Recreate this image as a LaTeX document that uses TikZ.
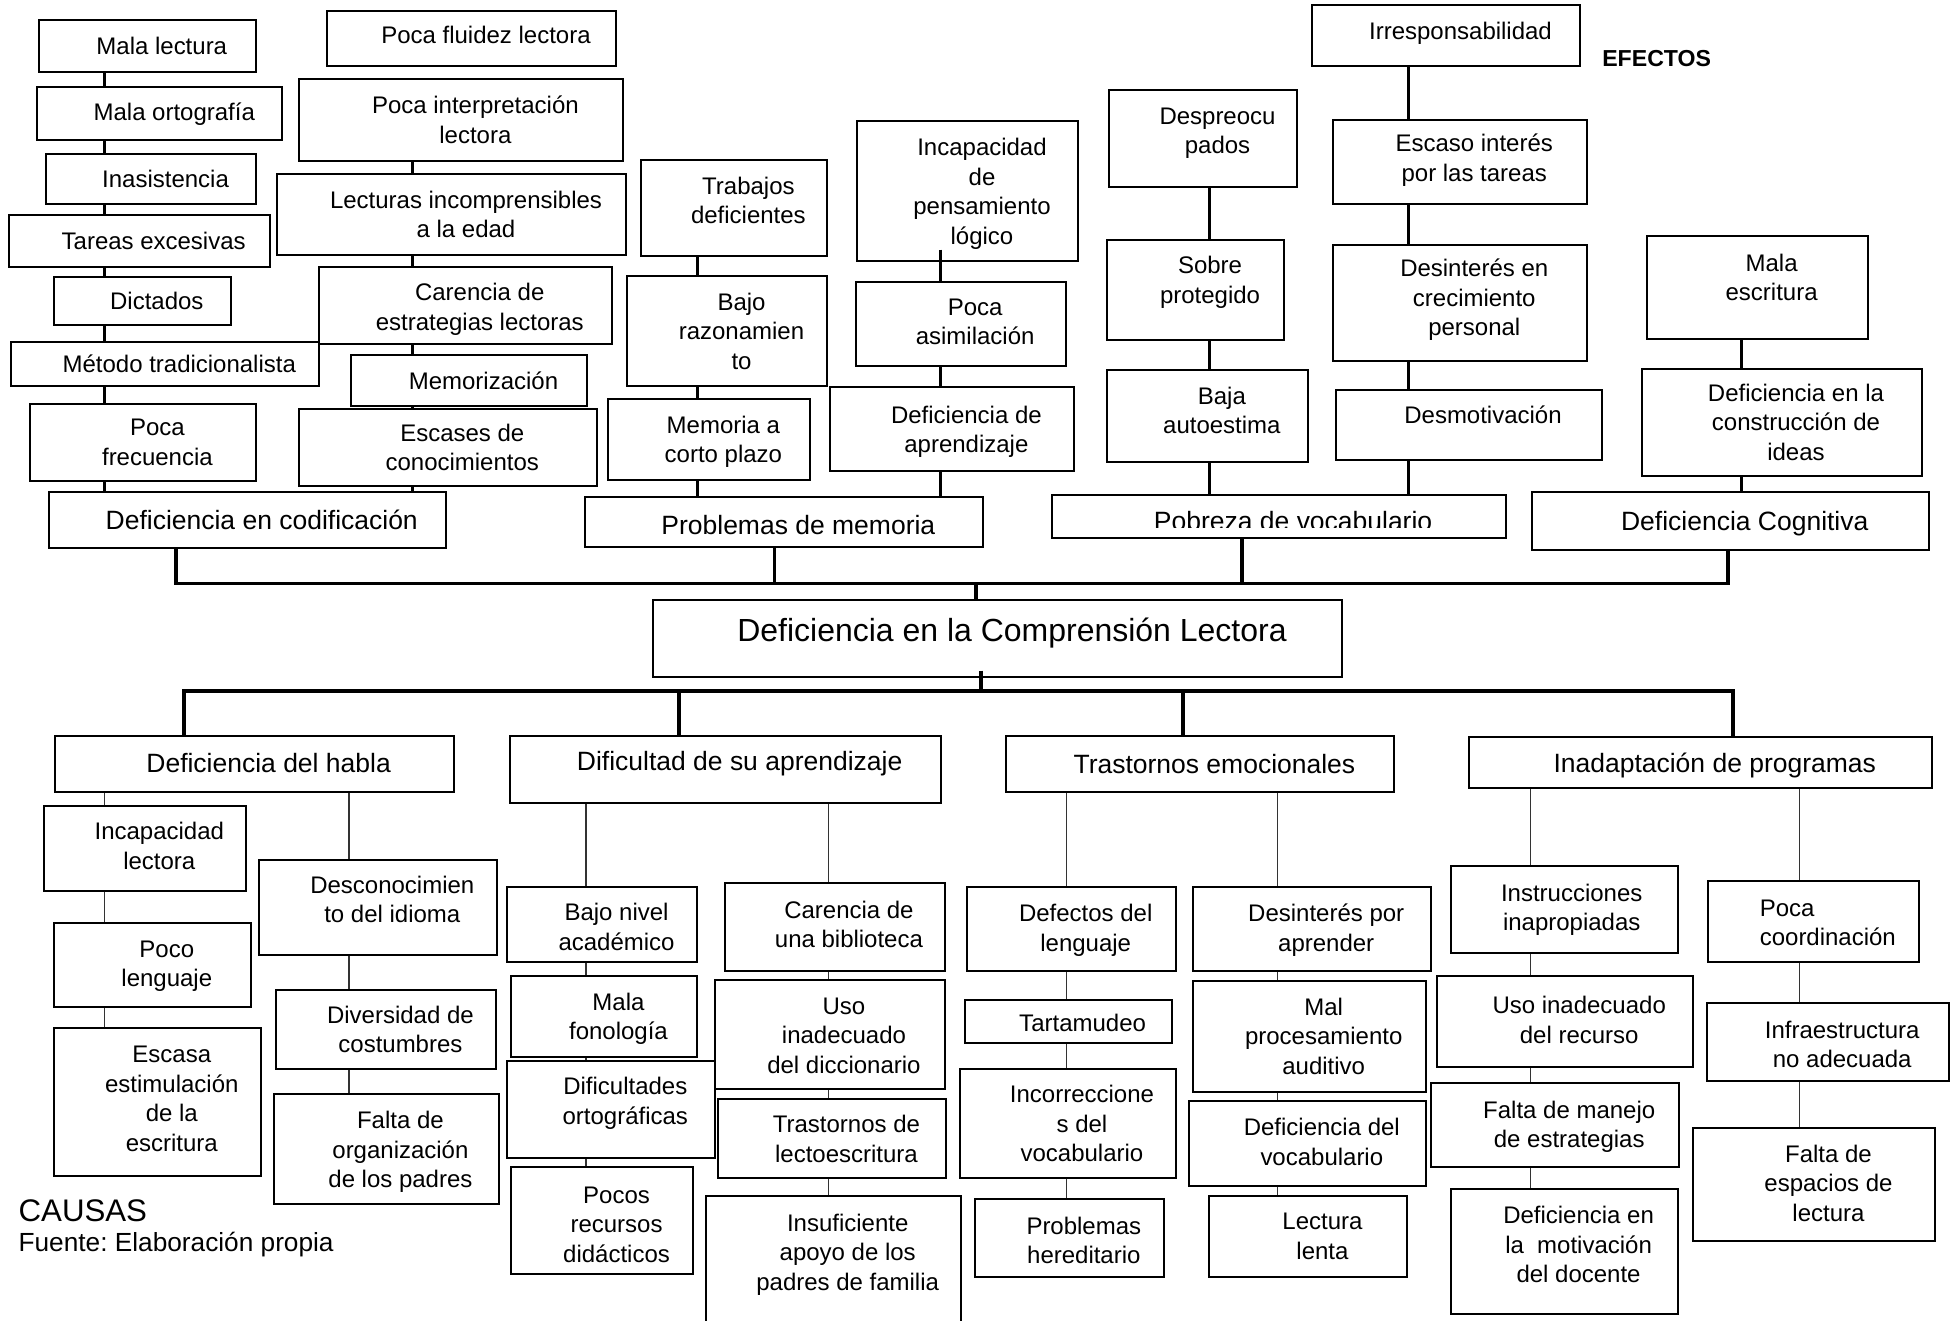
\documentclass[tikz,border=0pt]{standalone}
\usepackage{fontspec}
\setmainfont{Liberation Sans}
\usetikzlibrary{fit}
\newcommand{\cbfont}{\fontsize{19.2}{23.6}\selectfont}
\newcommand{\lvlfont}{\fontsize{21.2}{24}\selectfont}
\newcommand{\ctrfont}{\fontsize{25.6}{30}\selectfont}
\frenchspacing
\begin{document}
\begin{tikzpicture}[
      x=1pt, y=-1pt,
      cause/.style={
         draw,
         line width=1.6pt,
         inner sep=0pt,
         fit={#1}
      },
      every label/.style={
         font=\cbfont,
         align=center,
         inner sep=0pt,
         xshift=11.5pt
      },
      link/.style={line width=2.4pt},
      bus/.style={line width=3pt},
      twig/.style={line width=1pt,draw=black!80}
    ]
    \useasboundingbox (0,0) rectangle (1568,1057);
    % columns of the connectors
    \coordinate (cA) at (83.6,0);
    \coordinate (cB) at (330,0);
    \coordinate (cC) at (558,0);
    \coordinate (cD) at (753,0);
    \coordinate (cE) at (968,0);
    \coordinate (cF) at (1127,0);
    \coordinate (cG) at (1394,0);
    \coordinate (k1) at (141,467);
    \coordinate (k2) at (620,467);
    \coordinate (k3) at (994,467);
    \coordinate (k4) at (1383,467);
    \coordinate (k5) at (781,467);
    \coordinate (m1) at (147.5,553);
    \coordinate (m2) at (543.5,553);
    \coordinate (m3) at (947,553);
    \coordinate (m4) at (1387,553);
    \coordinate (m5) at (785,553);
    \coordinate (cH1) at (83.5,0);
    \coordinate (cH2) at (279.3,0);
    \coordinate (cD1) at (469,0);
    \coordinate (cD2) at (663,0);
    \coordinate (cT1) at (853.7,0);
    \coordinate (cT2) at (1022.6,0);
    \coordinate (cI1) at (1225.1,0);
    \coordinate (cI2) at (1440.6,0);

    % efectos
    \node[cause={(31,16) (205,58)}, label={center:Mala lectura}] (mlec) {};
    \node[cause={(30,70) (226,112)}, label={center:Mala ortografía}] (mort) {};
    \node[cause={(37,123) (205,163)}, label={center:Inasistencia}] (inas) {};
    \node[cause={(7,172) (216,214)}, label={center:Tareas excesivas}] (tarea) {};
    \node[cause={(43,222) (185,260)}, label={center:Dictados}] (dict) {};
    \node[cause={(9,274) (255,309)}, label={center:Método tradicionalista}] (metod) {};
    \node[cause={(24,323) (205,385)}, label={center:Poca\\frecuencia}] (pfrec) {};
    \node[cause={(39,394) (357,439)}, label={[font=\lvlfont]center:Deficiencia en codificación}] (defcod) {};

    \node[cause={(262,9) (493,53)}, label={[yshift=3pt]center:Poca fluidez lectora}] (pflu) {};
    \node[cause={(239,63) (499,129)}, label={center:Poca interpretación\\lectora}] (pint) {};
    \node[cause={(222,139) (501,204)}, label={center:Lecturas incomprensibles\\a la edad}] (lecin) {};
    \node[cause={(255,214) (490,275)}, label={[yshift=-3pt]center:Carencia de\\estrategias lectoras}] (carest) {};
    \node[cause={(281,284) (470,325)}, label={center:Memorización}] (memo) {};
    \node[cause={(239,327) (478,389)}, label={center:Escases de\\conocimientos}] (escas) {};

    \node[cause={(513,128) (662,205)}, label={[yshift=6pt]center:Trabajos\\deficientes}] (trab) {};
    \node[cause={(502,221) (662,309)}, label={center:Bajo\\razonamien\\to}] (bajor) {};
    \node[cause={(487,319) (648,384)}, label={[yshift=-2pt]center:Memoria a\\corto plazo}] (memcp) {};
    \node[cause={(468,398) (787,438)}, label={[font=\lvlfont, yshift=-2pt]center:Problemas de memoria}] (probm) {};

    \node[cause={(686,97) (863,209)}, label={[yshift=-2pt]center:Incapacidad\\de\\pensamiento\\lógico}] (incap) {};
    \node[cause={(685,226) (853,293)}, label={[yshift=2pt]center:Poca\\asimilación}] (pasim) {};
    \node[cause={(664,310) (860,377)}, label={[yshift=-2pt]center:Deficiencia de\\aprendizaje}] (defap) {};

    \node[cause={(888,72) (1038,150)}, label={[yshift=4.5pt]center:Despreocu\\pados}] (desp) {};
    \node[cause={(886,192) (1028,272)}, label={[yshift=6pt]center:Sobre\\protegido}] (sobre) {};
    \node[cause={(886,296) (1047,370)}, label={[yshift=4.5pt]center:Baja\\autoestima}] (bajaa) {};
    \node[cause={(842,396) (1205,431)}] (pobreza) {};
    \begin{scope}
      \clip (pobreza.north west) rectangle ([yshift=9.5pt]pobreza.south east);
      \node[font=\lvlfont, anchor=base, inner sep=0pt] (pobrezatxt) at (1035,425) {Pobreza de vocabulario};
    \end{scope}

    \node[cause={(1050,4) (1265,53)}, label={[yshift=2pt]center:Irresponsabilidad}] (irresp) {};
    \node[cause={(1067,96) (1270,163)}, label={[yshift=1.5pt]center:Escaso interés\\por las tareas}] (escaso) {};
    \node[cause={(1067,196) (1270,289)}, label={[yshift=2.5pt]center:Desinterés en\\crecimiento\\personal}] (desint) {};
    \node[cause={(1069,312) (1282,368)}, label={[yshift=8pt]center:Desmotivación}] (desmot) {};

    \node[cause={(1318,189) (1495,271)}, label={[yshift=8pt]center:Mala\\escritura}] (malesc) {};
    \node[cause={(1314,295) (1538,381)}, label={center:Deficiencia en la\\construcción de\\ideas}] (defcons) {};
    \node[cause={(1226,394) (1544,440)}, label={[font=\lvlfont, yshift=-2pt]center:Deficiencia Cognitiva}] (defcog) {};

    \node[font=\bfseries\fontsize{18.5}{20}\selectfont, inner sep=0pt] (efectos) at (1326,47) {EFECTOS};

    % problema central
    \node[cause={(523,480) (1074,542)}, label={[font=\ctrfont, yshift=4pt]center:Deficiencia en la Comprensión Lectora}] (ctr) {};

    % causas
    \node[cause={(44,589) (363,634)}, label={[font=\lvlfont, yshift=0.5pt]center:Deficiencia del habla}] (habla) {};
    \node[cause={(408,589) (753,643)}, label={[font=\lvlfont, yshift=5pt]center:Dificultad de su aprendizaje}] (dific) {};
    \node[cause={(805,589) (1116,634)}, label={[font=\lvlfont]center:Trastornos emocionales}] (trast) {};
    \node[cause={(1176,590) (1546,631)}, label={[font=\lvlfont, yshift=-2pt]center:Inadaptación de programas}] (inadap) {};

    \node[cause={(35,645) (197,713)}, label={[yshift=2pt]center:Incapacidad\\lectora}] (incapl) {};
    \node[cause={(43,739) (201,806)}, label={[yshift=-1pt]center:Poco\\lenguaje}] (pocol) {};
    \node[cause={(43,823) (209,941)}, label={[yshift=2.5pt]center:Escasa\\estimulación\\de la\\escritura}] (escasa) {};
    \node[cause={(207,688) (398,764)}, label={[yshift=6pt]center:Desconocimien\\to del idioma}] (descon) {};
    \node[cause={(221,792) (397,856)}, label={center:Diversidad de\\costumbres}] (divers) {};
    \node[cause={(219,876) (399,964)}, label={[yshift=-2pt]center:Falta de\\organización\\de los padres}] (faltorg) {};

    \node[cause={(406,710) (558,770)}, label={[yshift=-2pt]center:Bajo nivel\\académico}] (bajon) {};
    \node[cause={(409,781) (558,846)}, label={[yshift=-2pt]center:Mala\\fonología}] (malfon) {};
    \node[cause={(406,849) (572,927)}, label={[yshift=5pt]center:Dificultades\\ortográficas}] (difort) {};
    \node[cause={(409,934) (555,1020)}, label={[yshift=-3pt]center:Pocos\\recursos\\didácticos}] (pocos) {};
    \node[cause={(580,707) (756,777)}, label={[yshift=2pt]center:Carencia de\\una biblioteca}] (carbib) {};
    \node[cause={(572,784) (756,872)}, label={[yshift=-1pt]center:Uso\\inadecuado\\del diccionario}] (usodic) {};
    \node[cause={(575,880) (757,943)}, label={center:Trastornos de\\lectoescritura}] (trlec) {};
    \node[cause={(565,957) (769,1062)}, label={[yshift=5.5pt]center:Insuficiente\\apoyo de los\\padres de familia}] (insuf) {};

    \node[cause={(774,710) (941,777)}, label={[yshift=-1pt]center:Defectos del\\lenguaje}] (defect) {};
    \node[cause={(772,800) (938,835)}, label={[yshift=-1pt]center:Tartamudeo}] (tartam) {};
    \node[cause={(768,856) (941,943)}, label={center:Incorreccione\\s del\\vocabulario}] (incorr) {};
    \node[cause={(780,960) (932,1022)}, label={[yshift=-2pt]center:Problemas\\hereditario}] (probh) {};
    \node[cause={(955,710) (1145,777)}, label={[yshift=-1pt]center:Desinterés por\\aprender}] (desap) {};
    \node[cause={(955,785) (1141,874)}, label={center:Mal\\procesamiento\\auditivo}] (malproc) {};
    \node[cause={(952,881) (1141,949)}, label={[yshift=1pt]center:Deficiencia del\\vocabulario}] (defvoc) {};
    \node[cause={(968,957) (1126,1022)}, label={center:Lectura\\lenta}] (lectl) {};

    \node[cause={(1161,693) (1343,763)}, label={[xshift=-5.5pt]center:Instrucciones\\inapropiadas}] (instr) {};
    \node[cause={(1150,781) (1355,854)}, label={[yshift=1pt]center:Uso inadecuado\\del recurso}] (usorec) {};
    \node[cause={(1145,867) (1344,934)}, label={[yshift=-1.5pt]center:Falta de manejo\\de estrategias}] (faltman) {};
    \node[cause={(1161,952) (1343,1052)}, label={[yshift=5.6pt]center:Deficiencia en\\la~~motivación\\del docente}] (defmot) {};
    \node[cause={(1367,705) (1536,770)}, label={[align=left, yshift=-1pt]center:Poca\\coordinación}] (pococ) {};
    \node[cause={(1366,803) (1560,865)}, label={[yshift=-2pt]center:Infraestructura\\no adecuada}] (infra) {};
    \node[cause={(1355,903) (1549,993)}, label={[yshift=1pt]center:Falta de\\espacios de\\lectura}] (faltesp) {};

    \node[font=\fontsize{25}{28}\selectfont, anchor=base west, inner sep=0pt] (causas) at (14.7,977.8) {CAUSAS};
    \node[font=\fontsize{21}{24}\selectfont, anchor=base west, inner sep=0pt] (fuente) at (14.7,1002) {Fuente: Elaboración propia};

    % conectores de los efectos
    \draw[link] (mlec.south -| cA) -- (mort.north -| cA) (mort.south -| cA) -- (inas.north -| cA)
       (inas.south -| cA) -- (tarea.north -| cA) (tarea.south -| cA) -- (dict.north -| cA)
       (dict.south -| cA) -- (metod.north -| cA) (metod.south -| cA) -- (pfrec.north -| cA)
       (pfrec.south -| cA) -- (defcod.north -| cA);
    \draw[link] (pint.south -| cB) -- (lecin.north -| cB) (lecin.south -| cB) -- (carest.north -| cB)
       (carest.south -| cB) -- (memo.north -| cB) (memo.south -| cB) -- (escas.north -| cB)
       (escas.south -| cB) -- (defcod.north -| cB);
    \draw[link] (trab.south -| cC) -- (bajor.north -| cC) (bajor.south -| cC) -- (memcp.north -| cC)
       (memcp.south -| cC) -- (probm.north -| cC);
    \draw[link] ([yshift=10pt]incap.south -| cD) -- (pasim.north -| cD) (pasim.south -| cD) -- (defap.north -| cD)
       (defap.south -| cD) -- (probm.north -| cD);
    \draw[link] (desp.south -| cE) -- (sobre.north -| cE) (sobre.south -| cE) -- (bajaa.north -| cE)
       (bajaa.south -| cE) -- (pobreza.north -| cE);
    \draw[link] (irresp.south -| cF) -- (escaso.north -| cF) (escaso.south -| cF) -- (desint.north -| cF)
       (desint.south -| cF) -- (desmot.north -| cF) (desmot.south -| cF) -- (pobreza.north -| cF);
    \draw[link] (malesc.south -| cG) -- (defcons.north -| cG) (defcons.south -| cG) -- (defcog.north -| cG);

    % llaves
    \draw[bus] (defcod.south -| k1) -- (k1) -- (k4) -- (defcog.south -| k4);
    \draw[bus] (probm.south -| k2) -- (k2);
    \draw[bus] (pobreza.south -| k3) -- (k3);
    \draw[bus] (k5) -- (ctr.north -| k5);
    \draw[bus] (habla.north -| m1) -- (m1) -- (m4) -- (inadap.north -| m4);
    \draw[bus] ([yshift=6pt]ctr.south -| m5) -- ([yshift=-2pt]m5);
    \draw[bus] (m2) -- (dific.north -| m2);
    \draw[bus] (m3) -- (trast.north -| m3);

    % conectores de las causas
    \draw[twig] (habla.south -| cH1) -- (incapl.north -| cH1) (incapl.south -| cH1) -- (pocol.north -| cH1)
       (pocol.south -| cH1) -- (escasa.north -| cH1);
    \draw[twig] (habla.south -| cH2) -- (descon.north -| cH2) (descon.south -| cH2) -- (divers.north -| cH2)
       (divers.south -| cH2) -- (faltorg.north -| cH2);
    \draw[twig] (dific.south -| cD1) -- (bajon.north -| cD1) (bajon.south -| cD1) -- (malfon.north -| cD1)
       (malfon.south -| cD1) -- (difort.north -| cD1) (difort.south -| cD1) -- (pocos.north -| cD1);
    \draw[twig] (dific.south -| cD2) -- (carbib.north -| cD2) (carbib.south -| cD2) -- (usodic.north -| cD2)
       (usodic.south -| cD2) -- (trlec.north -| cD2) (trlec.south -| cD2) -- (insuf.north -| cD2);
    \draw[twig] (trast.south -| cT1) -- (defect.north -| cT1) (defect.south -| cT1) -- (tartam.north -| cT1)
       (tartam.south -| cT1) -- (incorr.north -| cT1) (incorr.south -| cT1) -- (probh.north -| cT1);
    \draw[twig] (trast.south -| cT2) -- (desap.north -| cT2) (desap.south -| cT2) -- (malproc.north -| cT2)
       (malproc.south -| cT2) -- (defvoc.north -| cT2) (defvoc.south -| cT2) -- (lectl.north -| cT2);
    \draw[twig] (inadap.south -| cI1) -- (instr.north -| cI1) (instr.south -| cI1) -- (usorec.north -| cI1)
       (usorec.south -| cI1) -- (faltman.north -| cI1) (faltman.south -| cI1) -- (defmot.north -| cI1);
    \draw[twig] (inadap.south -| cI2) -- (pococ.north -| cI2) (pococ.south -| cI2) -- (infra.north -| cI2)
       (infra.south -| cI2) -- (faltesp.north -| cI2);
\end{tikzpicture}
\end{document}
